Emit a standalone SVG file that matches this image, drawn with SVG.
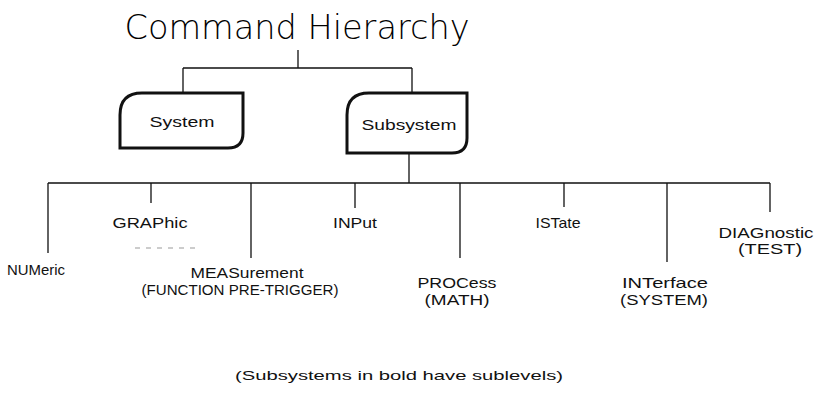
<svg xmlns="http://www.w3.org/2000/svg" width="815" height="399" viewBox="0 0 815 399">
<style>
.t{font-family:"Liberation Sans",Arial,sans-serif;font-size:15px;fill:#111;text-anchor:middle}
.ttl{font-family:"DejaVu Sans","Liberation Sans",sans-serif;font-weight:200;font-size:34px;fill:#000;text-anchor:middle}
.ln{stroke:#111;stroke-width:1.3;fill:none}
.box{stroke:#111;stroke-width:3;fill:#fff}
</style>
<rect width="815" height="399" fill="#fff"/>
<g id="title"><text x="297" y="39" class="ttl" textLength="345" lengthAdjust="spacingAndGlyphs">Command Hierarchy</text></g>
<g id="connectors">
<path class="ln" d="M298,50V68M183,68H412M183,68V93M412,68V93"/>
<path class="ln" d="M409,153V183M48,183H770M48,183V253M151,183V203M251,183V258M355,183V208M460,183V258M564,183V207M667,183V262M770,183V212"/>
<path d="M135,248H195" stroke="#999" stroke-width="1" stroke-dasharray="5,6"/>
</g>
<g id="system"><path class="box" d="M120,148L120,115Q120,93 142,93L243,93L243,133Q243,148 228,148Z"/><text x="182" y="127" class="t" textLength="65" lengthAdjust="spacingAndGlyphs">System</text></g>
<g id="subsystem"><path class="box" d="M347,153L347,115Q347,93 369,93L467,93L467,138Q467,153 452,153Z"/><text x="409" y="130" class="t" textLength="95" lengthAdjust="spacingAndGlyphs">Subsystem</text></g>
<g id="numeric"><text x="36" y="275" class="t" textLength="58" lengthAdjust="spacingAndGlyphs">NUMeric</text></g>
<g id="graphic"><text x="150" y="228" class="t" textLength="75" lengthAdjust="spacingAndGlyphs">GRAPhic</text></g>
<g id="measurement"><text x="247" y="278" class="t" textLength="113" lengthAdjust="spacingAndGlyphs">MEASurement</text><text x="240" y="295" class="t" textLength="197" lengthAdjust="spacingAndGlyphs">(FUNCTION PRE-TRIGGER)</text></g>
<g id="input"><text x="355" y="228" class="t" textLength="44" lengthAdjust="spacingAndGlyphs">INPut</text></g>
<g id="process"><text x="457" y="288" class="t" textLength="79" lengthAdjust="spacingAndGlyphs">PROCess</text><text x="457" y="305" class="t" textLength="65" lengthAdjust="spacingAndGlyphs">(MATH)</text></g>
<g id="istate"><text x="558" y="228" class="t" textLength="45" lengthAdjust="spacingAndGlyphs">ISTate</text></g>
<g id="interface"><text x="665" y="288" class="t" textLength="86" lengthAdjust="spacingAndGlyphs">INTerface</text><text x="664" y="305" class="t" textLength="88" lengthAdjust="spacingAndGlyphs">(SYSTEM)</text></g>
<g id="diagnostic"><text x="766" y="238" class="t" textLength="95" lengthAdjust="spacingAndGlyphs">DIAGnostic</text><text x="770" y="254" class="t" textLength="64" lengthAdjust="spacingAndGlyphs">(TEST)</text></g>
<g id="footer"><text x="399" y="380" class="t" style="font-size:13px" textLength="328" lengthAdjust="spacingAndGlyphs">(Subsystems in bold have sublevels)</text></g>
</svg>
